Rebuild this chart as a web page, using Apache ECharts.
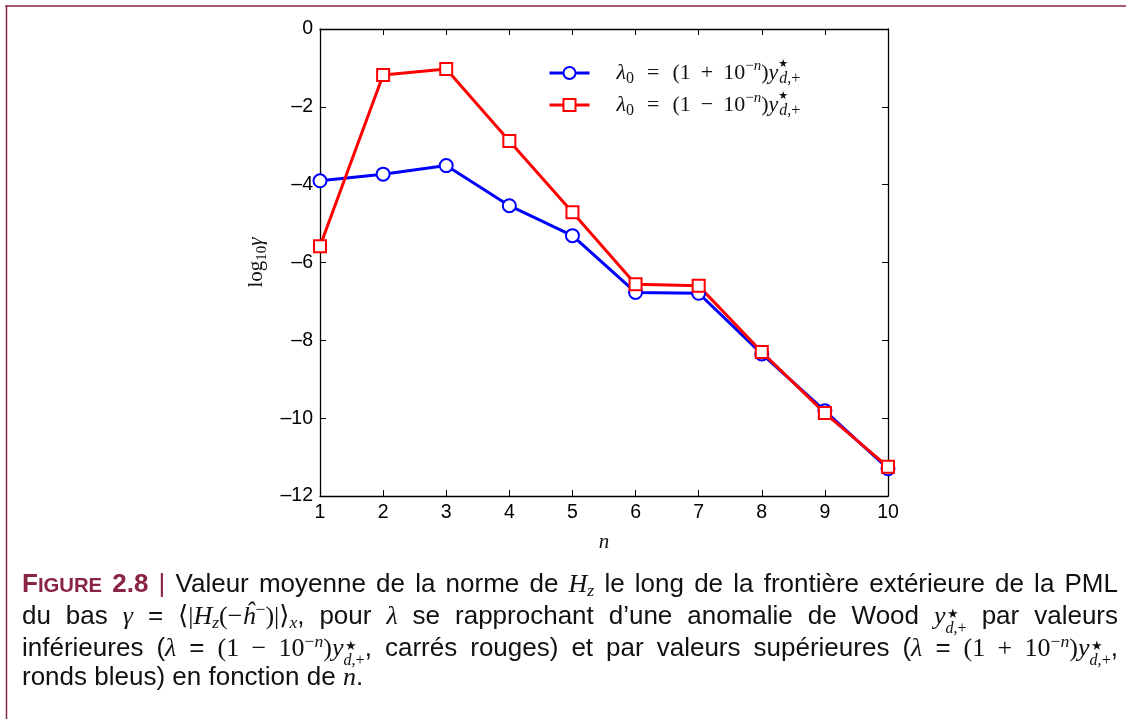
<!DOCTYPE html>
<html><head><meta charset="utf-8">
<script src="https://cdn.jsdelivr.net/npm/echarts@6/dist/echarts.min.js"></script>
<style>
html,body{margin:0;padding:0;background:#fff;width:1126px;height:719px;overflow:hidden;}
#chart{position:absolute;left:0;top:0;width:1126px;height:719px;}
#cap{position:absolute;left:22px;top:567px;width:1096px;font-family:"Liberation Sans",Arial,sans-serif;font-size:26px;line-height:32px;color:#111;}
#cap > div{height:32px;}
#cap .j2{text-align:justify;text-align-last:justify;white-space:nowrap;}
#cap .last{text-align:left;white-space:nowrap;margin-top:-3px;}
.fig{color:#8a2443;font-weight:bold;}
.fig .sc{font-size:0.78em;}
.bar{color:#8a2443;}
.m{font-family:"Liberation Serif","DejaVu Serif",serif;font-size:1.0em;}
.m i{font-style:italic;}
.m sub{font-size:0.68em;vertical-align:-0.25em;line-height:0;}
.m sup{font-size:0.68em;vertical-align:0.5em;line-height:0;}
.ss{display:inline-block;font-size:0.62em;line-height:0.95;vertical-align:-0.55em;text-align:left;}
.ss span{display:block;}
.ss .st{font-size:0.8em;margin-left:0.15em;}
</style></head>
<body>
<div id="chart"></div>
<div id="cap">
<div class="j2"><span class="fig">F<span class="sc">IGURE</span> 2.8</span> <span class="bar">|</span> Valeur moyenne de la norme de <span class="m"><i>H</i><sub><i>z</i></sub></span> le long de la frontière extérieure de la PML</div>
<div class="j2">du bas <span class="m"><i>γ</i></span> = <span class="m">⟨|<i>H</i><sub><i>z</i></sub>(−<i>ĥ</i><sup>−</sup>)|⟩<sub><i>x</i></sub></span>, pour <span class="m"><i>λ</i></span> se rapprochant d’une anomalie de Wood <span class="m"><i>y</i><span class="ss"><span class="st">★</span><span><i>d</i>,+</span></span></span> par valeurs</div>
<div class="j2">inférieures (<span class="m"><i>λ</i></span> = <span class="m">(1 − 10<sup>−<i>n</i></sup>)<i>y</i><span class="ss"><span class="st">★</span><span><i>d</i>,+</span></span></span>, carrés rouges) et par valeurs supérieures (<span class="m"><i>λ</i></span> = <span class="m">(1 + 10<sup>−<i>n</i></sup>)<i>y</i><span class="ss"><span class="st">★</span><span><i>d</i>,+</span></span></span>,</div>
<div class="last">ronds bleus) en fonction de <span class="m"><i>n</i></span>.</div>
</div>
<script>
// ---- data ----
const nValues = [1, 2, 3, 4, 5, 6, 7, 8, 9, 10];
const bluePlus = [-3.90, -3.73, -3.51, -4.54, -5.31, -6.77, -6.79, -8.35, -9.81, -11.30];
const redMinus = [-5.58, -1.18, -1.03, -2.88, -4.71, -6.56, -6.60, -8.30, -9.87, -11.25];
const seriesNames = ['lambda0 plus', 'lambda0 minus'];
const xTicks = [1, 10, 1];   // min, max, interval
const yTicks = [-12, 0, 2];  // min, max, interval

const chart = echarts.init(document.getElementById('chart'));
const minusFmt = v => String(v).replace('-', '\u2013');
const serif = '"Liberation Serif","DejaVu Serif",serif';
const sans = '"Liberation Sans",Arial,sans-serif';

const legendRich = {
  gap: {width: 22, fontSize: 18},
  w: {width: 13, fontSize: 18},
  v: {width: 10, fontSize: 18},
  it: {fontFamily: serif, fontStyle: 'italic', fontSize: 22, lineHeight: 28, color: '#111'},
  rm: {fontFamily: serif, fontSize: 22, lineHeight: 28, color: '#111'},
  sb: {fontFamily: serif, fontSize: 16, lineHeight: 15, verticalAlign: 'bottom', color: '#111'},
  sbi: {fontFamily: serif, fontStyle: 'italic', fontSize: 16, lineHeight: 14, verticalAlign: 'bottom', color: '#111'},
  sp: {fontFamily: serif, fontStyle: 'italic', fontSize: 15, lineHeight: 17, verticalAlign: 'top', color: '#111'},
  spr: {fontFamily: serif, fontSize: 15, lineHeight: 17, verticalAlign: 'top', color: '#111'},
  st: {fontFamily: '"DejaVu Sans",sans-serif', fontSize: 11, lineHeight: 17, verticalAlign: 'top', width: 1, color: '#111'}
};
function legendText(name) {
  const sign = name === seriesNames[0] ? '+' : '\u2212';
  return '{gap| }{it|λ}{sb|0}{w| }{rm|=}{w| }{rm|(1}{v| }{rm|' + sign + '}{v| }{rm|10}{spr|\u2212}{sp|n}{rm|)}{it|y}{st|★}{sbi|d}{sb|,+}';
}

const axisBase = {
  axisLine: {onZero: false, lineStyle: {color: '#000', width: 1.3}},
  axisTick: {inside: true, length: 6, lineStyle: {color: '#000', width: 1}},
  splitLine: {show: false}
};

chart.setOption({
  animation: false,
  grid: {left: 320, top: 29, right: 238, bottom: 223},
  legend: {
    left: 543, top: 54, orient: 'vertical', itemGap: 4,
    itemWidth: 40, itemHeight: 15,
    data: seriesNames,
    formatter: legendText,
    lineStyle: {width: 3},
    textStyle: {rich: legendRich}
  },
  xAxis: [Object.assign({
    type: 'value', min: xTicks[0], max: xTicks[1], interval: xTicks[2],
    position: 'bottom',
    axisLabel: {color: '#000', fontFamily: sans, fontSize: 19.5, margin: 7},
    name: 'n', nameLocation: 'middle', nameGap: 36,
    nameTextStyle: {fontFamily: serif, fontStyle: 'italic', fontSize: 21, color: '#111'}
  }, axisBase), Object.assign({
    type: 'value', min: xTicks[0], max: xTicks[1], interval: xTicks[2],
    position: 'top',
    axisLabel: {show: false}
  }, axisBase)],
  yAxis: [Object.assign({
    type: 'value', min: yTicks[0], max: yTicks[1], interval: yTicks[2],
    position: 'left',
    axisLabel: {color: '#000', fontFamily: sans, fontSize: 19.5, margin: 7, formatter: minusFmt},
    name: '{a|log}{b|10}{c|γ}', nameLocation: 'middle', nameGap: 42,
    nameTextStyle: {rich: {
      a: {fontFamily: serif, fontSize: 21, lineHeight: 26, color: '#111'},
      b: {fontFamily: serif, fontSize: 15, lineHeight: 18, verticalAlign: 'bottom', color: '#111'},
      c: {fontFamily: serif, fontStyle: 'italic', fontSize: 21, lineHeight: 26, color: '#111'}
    }}
  }, axisBase), Object.assign({
    type: 'value', min: yTicks[0], max: yTicks[1], interval: yTicks[2],
    position: 'right',
    axisLabel: {show: false}
  }, axisBase)],
  graphic: [
    {type: 'line', shape: {x1: 5, y1: 6, x2: 1126, y2: 6}, style: {stroke: '#8a2443', lineWidth: 1.5}},
    {type: 'line', shape: {x1: 6.5, y1: 6, x2: 6.5, y2: 719}, style: {stroke: '#8a2443', lineWidth: 1.5}}
  ],
  series: [{
    name: seriesNames[0], type: 'line',
    data: nValues.map((n, i) => [n, bluePlus[i]]),
    symbol: 'emptyCircle', symbolSize: 13,
    lineStyle: {color: '#0000ff', width: 3},
    itemStyle: {color: '#0000ff', borderColor: '#0000ff', borderWidth: 2.5}
  }, {
    name: seriesNames[1], type: 'line',
    data: nValues.map((n, i) => [n, redMinus[i]]),
    symbol: 'emptyRect', symbolSize: 12,
    lineStyle: {color: '#ff0000', width: 3},
    itemStyle: {color: '#ff0000', borderColor: '#ff0000', borderWidth: 2.5}
  }]
});
</script>
</body></html>
